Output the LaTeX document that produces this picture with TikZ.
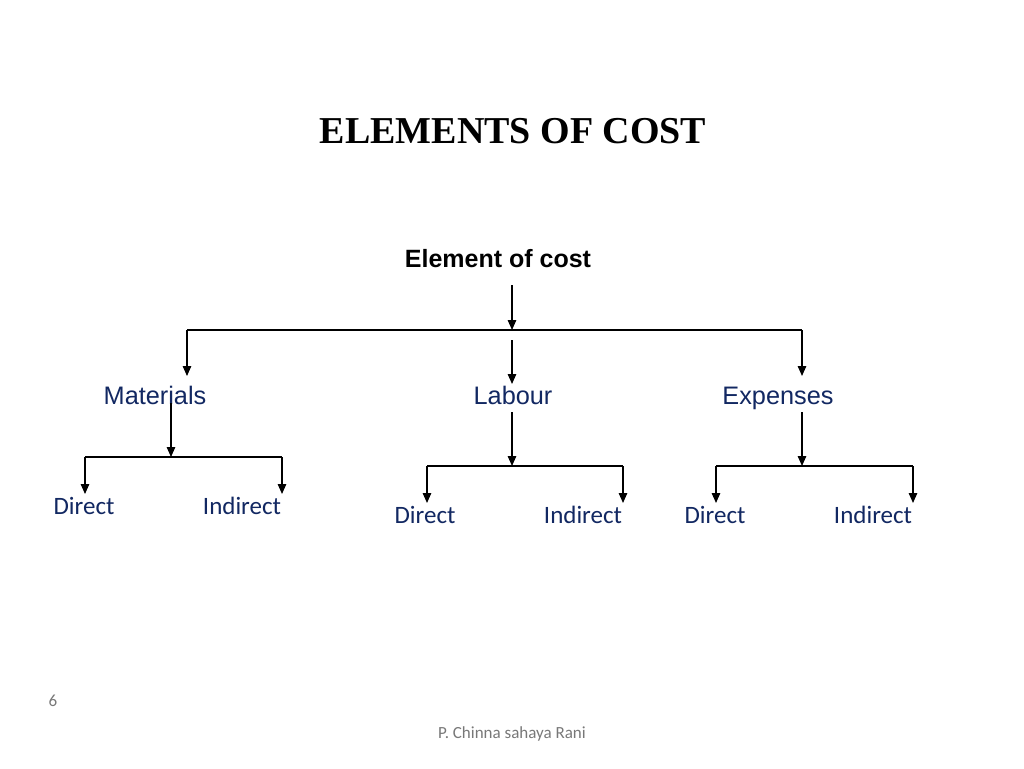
\documentclass[tikz,border=0pt]{standalone}
\usepackage{fontspec}
\setmainfont{Liberation Serif}
\newfontfamily\arialf{Liberation Sans}
\newfontfamily\calibrif{Carlito}
\usetikzlibrary{arrows.meta}
\definecolor{navy}{RGB}{18,40,98}
\definecolor{foot}{RGB}{120,120,120}
\tikzset{
  conn/.style={line width=1.3pt, draw=black},
  arr/.style={conn, -{Triangle[length=10pt,width=8.5pt]}},
  titletext/.style={font=\fontsize{38}{40}\selectfont\bfseries, inner sep=0pt, anchor=base},
  roottext/.style={font=\arialf\bfseries\fontsize{25}{28}\selectfont, inner sep=0pt, anchor=base},
  cattext/.style={font=\arialf\fontsize{25.3}{28}\selectfont, text=navy, inner sep=0pt, anchor=base},
  leaftext/.style={font=\calibrif\fontsize{25}{28}\selectfont, text=navy, inner sep=0pt, anchor=base},
  foottext/.style={font=\calibrif\fontsize{17}{20}\selectfont, text=foot, inner sep=0pt, anchor=base},
}
\begin{document}
\begin{tikzpicture}[x=1pt,y=-1pt]
\useasboundingbox[fill=white] (0,0) rectangle (1024,768);
% texts
\node[titletext] (title) at (513,143) {ELEMENTS OF COST};
\node[roottext] (root) at (498,267) {Element of cost};
\node[cattext] (mat) at (155,404) {Materials};
\node[cattext] (lab) at (513,404) {Labour};
\node[cattext] (exp) at (778,404) {Expenses};
\node[leaftext] (md) at (84,514) {Direct};
\node[leaftext] (mi) at (242,514) {Indirect};
\node[leaftext] (ld) at (425,523) {Direct};
\node[leaftext] (li) at (583,523) {Indirect};
\node[leaftext] (ed) at (715,523) {Direct};
\node[leaftext] (ei) at (873,523) {Indirect};
\node[foottext] (pg) at (53,706) {6};
\node[foottext] (auth) at (512,738) {P. Chinna sahaya Rani};
% junction coordinates
\coordinate (r0) at (512,285);
\coordinate (j0) at (512,330);
\coordinate (jl) at (187,330);
\coordinate (jr) at (802,330);
\coordinate (matin) at (187,376);
\coordinate (expin) at (802,376);
\coordinate (labs) at (512,340);
\coordinate (labin) at (512,384);
\coordinate (mato) at (171,403);
\coordinate (jm) at (171,457);
\coordinate (jml) at (85,457);
\coordinate (jmr) at (282,457);
\coordinate (mdin) at (85,494);
\coordinate (miin) at (282,494);
\coordinate (labo) at (512,412);
\coordinate (jlab) at (512,466);
\coordinate (jll) at (427,466);
\coordinate (jlr) at (623,466);
\coordinate (ldin) at (427,503);
\coordinate (liin) at (623,503);
\coordinate (expo) at (802,412);
\coordinate (jexp) at (802,466);
\coordinate (jel) at (716,466);
\coordinate (jer) at (913,466);
\coordinate (edin) at (716,503);
\coordinate (eiin) at (913,503);
% connectors
\draw[arr] (r0) -- (j0);
\draw[conn] (jl) -- (jr);
\draw[arr] (jl) -- (matin);
\draw[arr] (jr) -- (expin);
\draw[arr] (labs) -- (labin);
\draw[arr] (mato) -- (jm);
\draw[conn] (jml) -- (jmr);
\draw[arr] (jml) -- (mdin);
\draw[arr] (jmr) -- (miin);
\draw[arr] (labo) -- (jlab);
\draw[conn] (jll) -- (jlr);
\draw[arr] (jll) -- (ldin);
\draw[arr] (jlr) -- (liin);
\draw[arr] (expo) -- (jexp);
\draw[conn] (jel) -- (jer);
\draw[arr] (jel) -- (edin);
\draw[arr] (jer) -- (eiin);
\end{tikzpicture}
\end{document}
